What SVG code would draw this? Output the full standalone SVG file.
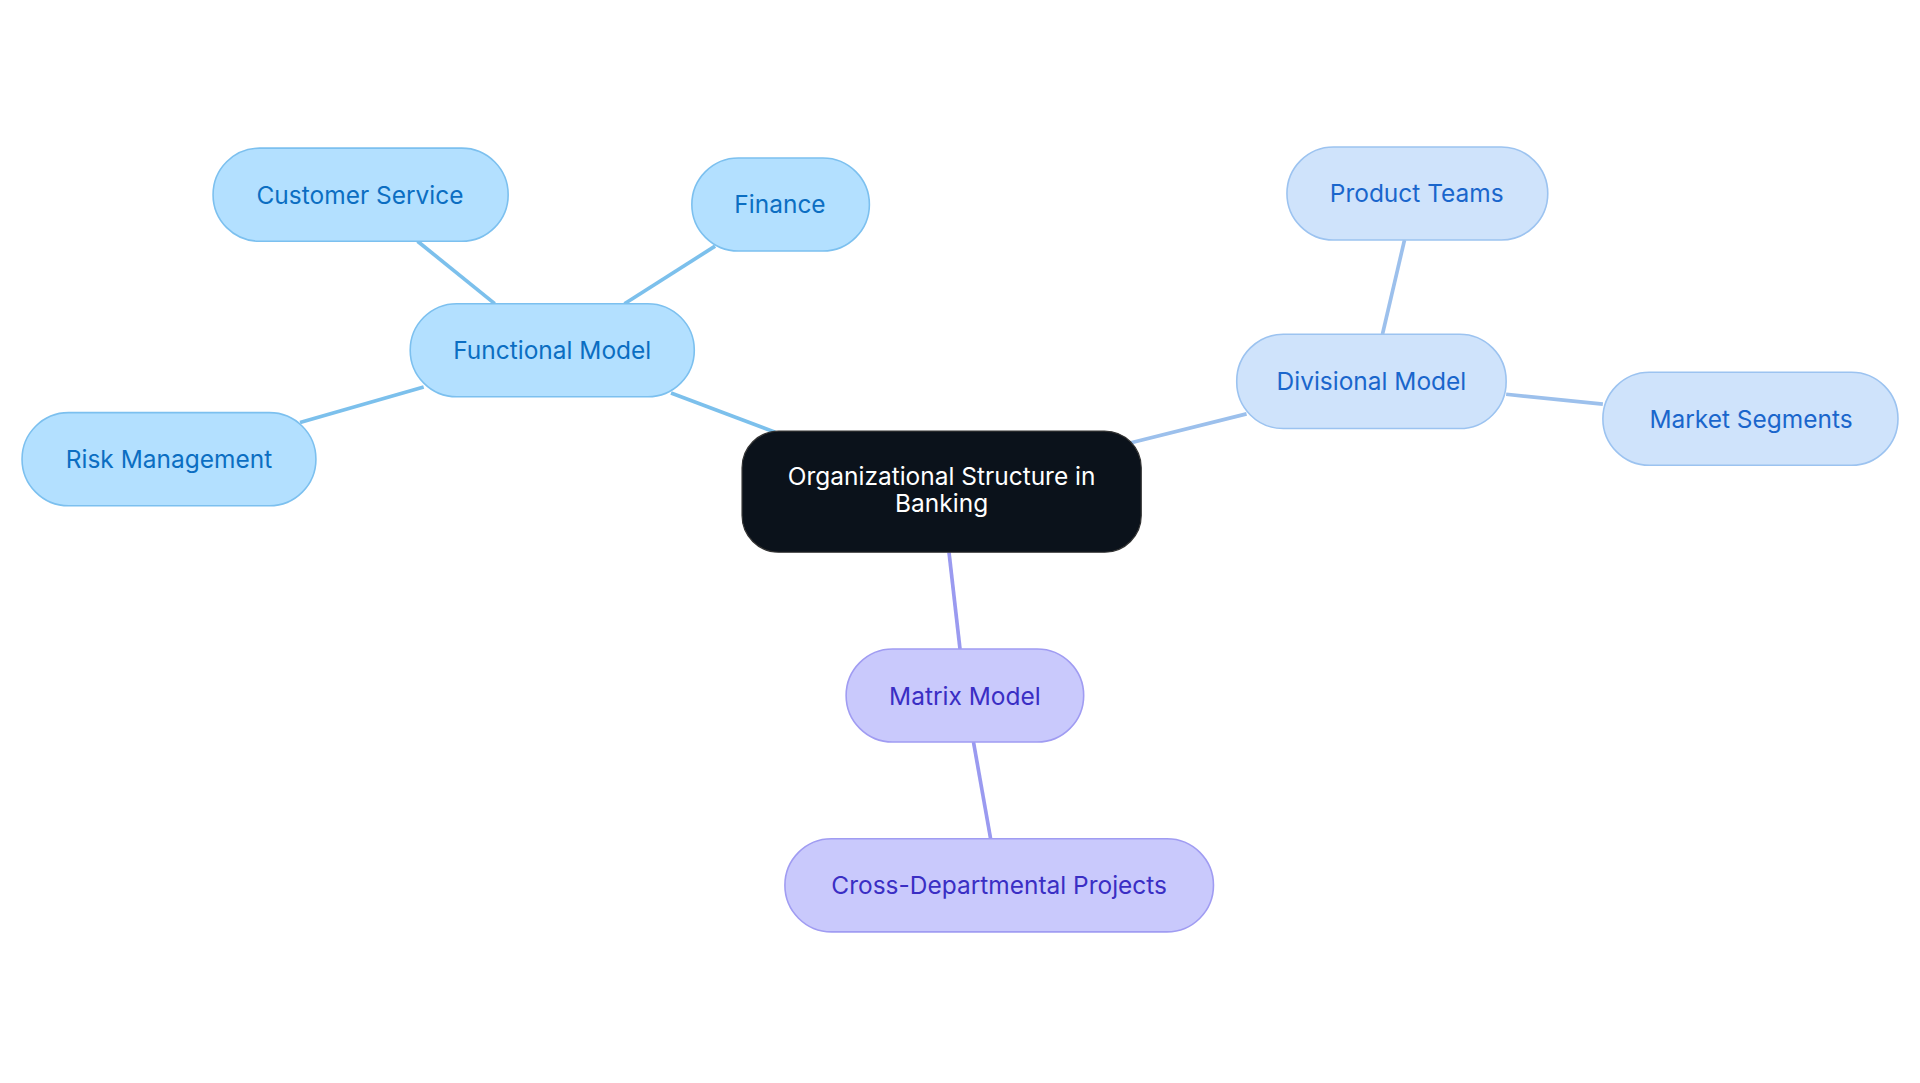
<svg xmlns="http://www.w3.org/2000/svg" width="1920" height="1083" viewBox="0 0 1920 1083">
<style>
text{font-family:Inter,"Noto Sans","Liberation Sans",sans-serif;font-size:20px;text-anchor:middle;dominant-baseline:central}
.f rect{fill:#b3e0ff;stroke:#7cc0ef;stroke-width:1.3}.f text{fill:#0b6ec2}
.d rect{fill:#cfe3fb;stroke:#9cc3f0;stroke-width:1.3}.d text{fill:#1a66cc}
.m rect{fill:#c9c9fc;stroke:#a09cf2;stroke-width:1.3}.m text{fill:#3a2ec4}
.e{stroke-width:3;fill:none}
</style>
<rect width="1920" height="1083" fill="#fff"/>
<g transform="scale(1.2245)">
<g id="connectors">
<g class="e" stroke="#7cc0ec">
<line x1="633" y1="353" x2="548" y2="321"/>
<line x1="404" y1="248" x2="341" y2="197"/>
<line x1="510" y1="248" x2="584" y2="201"/>
<line x1="346" y1="316" x2="245" y2="345"/>
</g>
<g class="e" stroke="#9cc0ec">
<line x1="922" y1="362" x2="1018" y2="338"/>
<line x1="1129" y1="273" x2="1147" y2="196"/>
<line x1="1230" y1="322" x2="1309" y2="330"/>
</g>
<g class="e" stroke="#9a9af0">
<line x1="775" y1="451" x2="784" y2="530"/>
<line x1="795" y1="606" x2="809" y2="685"/>
</g>
</g>
<g id="center"><rect x="606" y="352" width="326" height="99" rx="30" fill="#0b121b" stroke="#333" stroke-width="1"/>
<text x="769" y="389" fill="#fff">Organizational Structure in</text><text x="769" y="411" fill="#fff">Banking</text></g>
<g id="functional" class="f"><rect x="335" y="248" width="232" height="76" rx="38"/><text x="451" y="286">Functional Model</text></g>
<g id="customer" class="f"><rect x="174" y="121" width="241" height="76" rx="38"/><text x="294" y="159">Customer Service</text></g>
<g id="finance" class="f"><rect x="565" y="129" width="145" height="76" rx="38"/><text x="637" y="167">Finance</text></g>
<g id="risk" class="f"><rect x="18" y="337" width="240" height="76" rx="38"/><text x="138" y="375">Risk Management</text></g>
<g id="divisional" class="d"><rect x="1010" y="273" width="220" height="77" rx="38"/><text x="1120" y="311">Divisional Model</text></g>
<g id="product" class="d"><rect x="1051" y="120" width="213" height="76" rx="38"/><text x="1157" y="158">Product Teams</text></g>
<g id="market" class="d"><rect x="1309" y="304" width="241" height="76" rx="38"/><text x="1430" y="342">Market Segments</text></g>
<g id="matrix" class="m"><rect x="691" y="530" width="194" height="76" rx="38"/><text x="788" y="568">Matrix Model</text></g>
<g id="cross" class="m"><rect x="641" y="685" width="350" height="76" rx="38"/><text x="816" y="723">Cross-Departmental Projects</text></g>
</g>
</svg>
